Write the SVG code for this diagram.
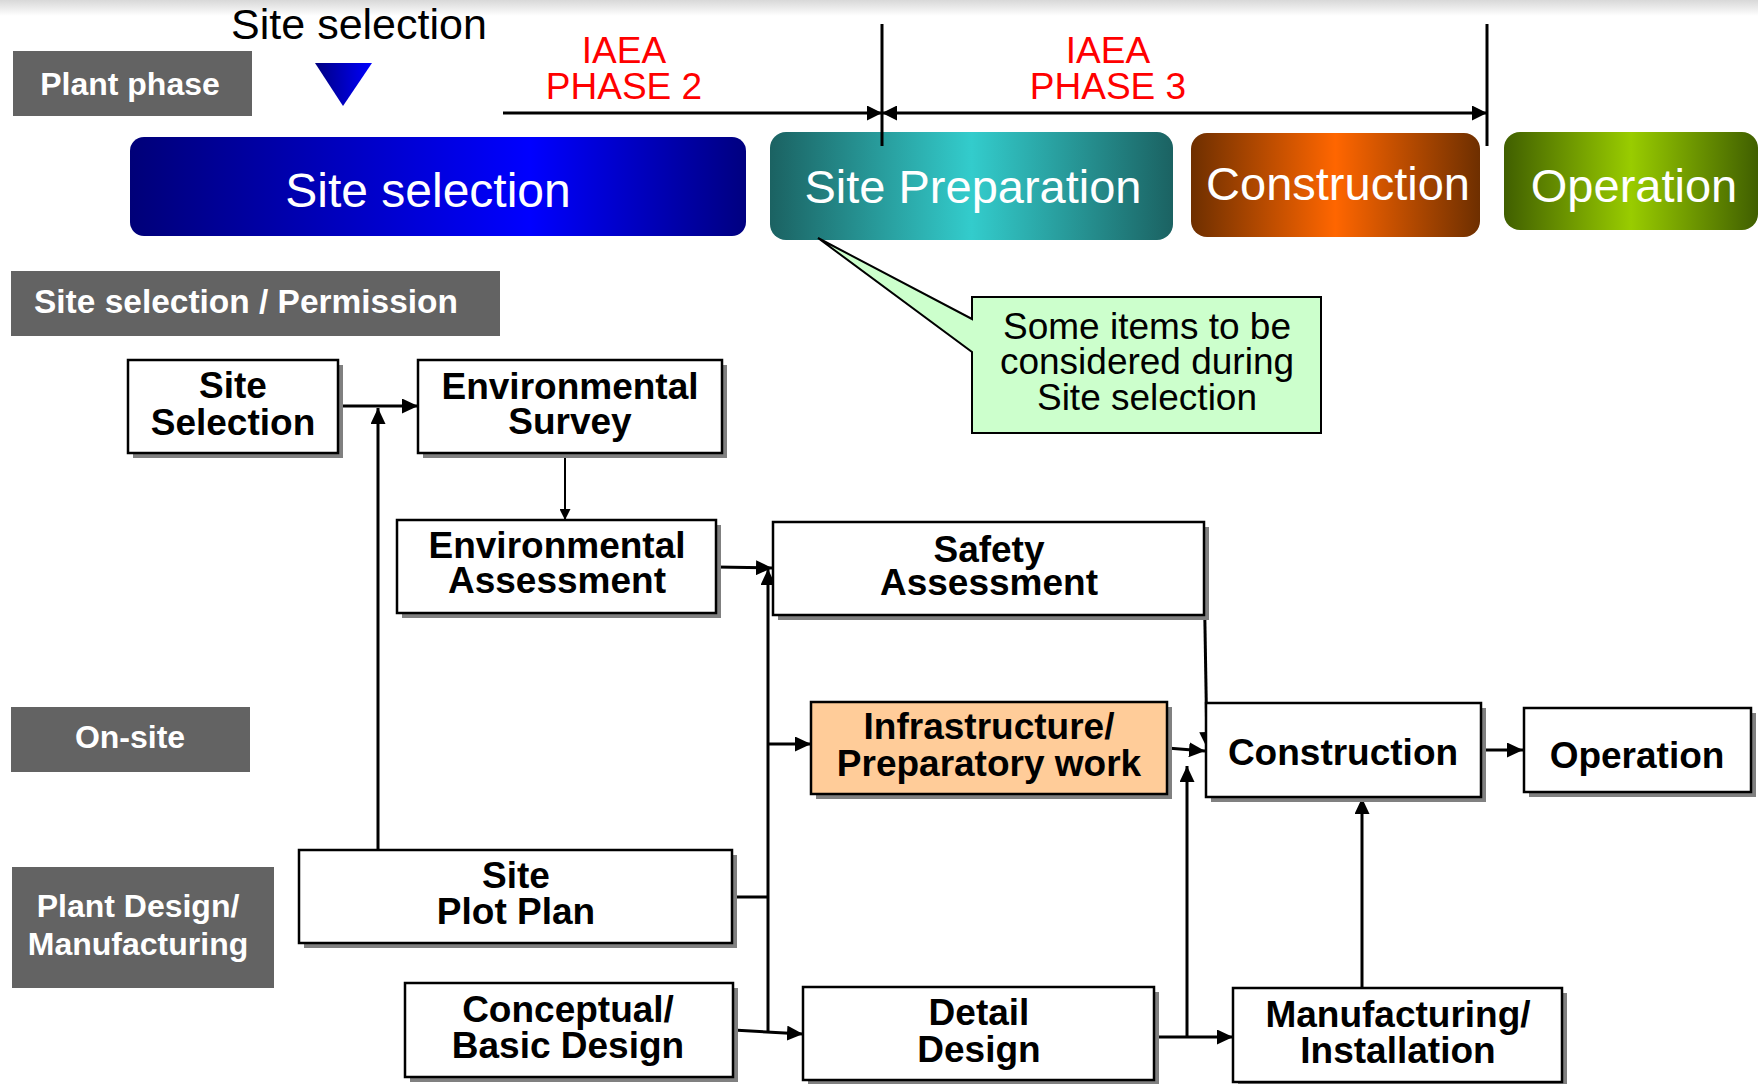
<svg xmlns="http://www.w3.org/2000/svg" width="1758" height="1084" viewBox="0 0 1758 1084">
<defs>
<style>
.lbl{fill:#636363}
.lt{font-family:"Liberation Sans",Arial,sans-serif;font-weight:bold;font-size:32px;fill:#fff}
.sh{fill:#808080}
.box{fill:#fff;stroke:#000;stroke-width:2.5}
.bt{font-family:"Liberation Sans",Arial,sans-serif;font-weight:bold;font-size:37px;fill:#000;text-anchor:middle}
.bar{font-family:"Liberation Sans",Arial,sans-serif;font-size:47px;fill:#fff;text-anchor:middle}
.red{font-family:"Liberation Sans",Arial,sans-serif;font-size:37px;fill:#f00;text-anchor:middle}
.reg{font-family:"Liberation Sans",Arial,sans-serif;font-size:37px;fill:#000;text-anchor:middle}
.c{fill:none;stroke:#000;stroke-width:3}
.thin{fill:none;stroke:#000;stroke-width:2}
</style>
<linearGradient id="topfade" x1="0" y1="0" x2="0" y2="1"><stop offset="0" stop-color="#d8d8d8"/><stop offset="1" stop-color="#fff"/></linearGradient>
<linearGradient id="gBlue" x1="0" y1="0" x2="1" y2="0"><stop offset="0" stop-color="#000078"/><stop offset="0.65" stop-color="#0000ff"/><stop offset="1" stop-color="#000080"/></linearGradient>
<linearGradient id="gTri" x1="0" y1="0" x2="1" y2="0"><stop offset="0" stop-color="#000080"/><stop offset="1" stop-color="#0000ff"/></linearGradient>
<linearGradient id="gTeal" x1="0" y1="0" x2="1" y2="0"><stop offset="0" stop-color="#1b6262"/><stop offset="0.5" stop-color="#33cccc"/><stop offset="1" stop-color="#1b6262"/></linearGradient>
<linearGradient id="gOrange" x1="0" y1="0" x2="1" y2="0"><stop offset="0" stop-color="#6e2f00"/><stop offset="0.5" stop-color="#ff6600"/><stop offset="1" stop-color="#6e2f00"/></linearGradient>
<linearGradient id="gGreen" x1="0" y1="0" x2="1" y2="0"><stop offset="0" stop-color="#405f00"/><stop offset="0.5" stop-color="#99cc00"/><stop offset="1" stop-color="#405f00"/></linearGradient>
<marker id="arr" viewBox="0 0 16 15" refX="16" refY="7.5" markerWidth="16" markerHeight="15" markerUnits="userSpaceOnUse" orient="auto-start-reverse"><path d="M0,0 L16,7.5 L0,15 Z" fill="#000"/></marker>
<marker id="arrS" viewBox="0 0 11 11" refX="11" refY="5.5" markerWidth="11" markerHeight="11" markerUnits="userSpaceOnUse" orient="auto-start-reverse"><path d="M0,0 L11,5.5 L0,11 Z" fill="#000"/></marker>
<marker id="arrP" viewBox="0 0 15 15" refX="15" refY="7.5" markerWidth="15" markerHeight="15" markerUnits="userSpaceOnUse" orient="auto-start-reverse"><path d="M0,0 L15,7.5 L0,15 Z" fill="#000"/></marker>
</defs>
<rect x="0" y="0" width="1758" height="1084" fill="#fff"/>
<rect x="0" y="0" width="1758" height="16" fill="url(#topfade)"/>

<!-- header / phases -->
<g id="label-plant-phase"><rect class="lbl" x="13" y="51" width="239" height="65"/><text class="lt" x="130" y="95" text-anchor="middle">Plant phase</text></g>
<g id="marker-site-selection">
<text class="reg" x="359" y="39" style="font-size:43px">Site selection</text>
<polygon points="315,63 372,63 343,106" fill="url(#gTri)"/>
</g>
<g id="iaea-phase2"><text class="red" x="624" y="63">IAEA</text><text class="red" x="624" y="99">PHASE 2</text></g>
<g id="iaea-phase3"><text class="red" x="1108" y="63">IAEA</text><text class="red" x="1108" y="99">PHASE 3</text></g>
<g id="phase-site-selection"><rect x="130" y="137" width="616" height="99" rx="14" fill="url(#gBlue)"/><text class="bar" x="428" y="207" style="font-size:48px">Site selection</text></g>
<g id="phase-site-preparation"><rect x="770" y="132" width="403" height="108" rx="16" fill="url(#gTeal)"/><text class="bar" x="973" y="203">Site Preparation</text></g>
<g id="phase-construction"><rect x="1191" y="133" width="289" height="104" rx="16" fill="url(#gOrange)"/><text class="bar" x="1338" y="200">Construction</text></g>
<g id="phase-operation"><rect x="1504" y="132" width="254" height="98" rx="16" fill="url(#gGreen)"/><text class="bar" x="1634" y="202">Operation</text></g>

<g id="callout"><path d="M972,297 H1321 V433 H972 V352 L818,238 L972,319 Z" fill="#ccffcc" stroke="#000" stroke-width="2"/>
<text class="reg" x="1147" y="339">Some items to be</text><text class="reg" x="1147" y="374">considered during</text><text class="reg" x="1147" y="410">Site selection</text></g>

<!-- row labels -->
<g id="label-permission"><rect class="lbl" x="11" y="271" width="489" height="65"/><text class="lt" x="34" y="313" style="font-size:33px" textLength="424" lengthAdjust="spacingAndGlyphs">Site selection / Permission</text></g>
<g id="label-onsite"><rect class="lbl" x="11" y="707" width="239" height="65"/><text class="lt" x="130" y="748" text-anchor="middle">On-site</text></g>
<g id="label-plant-design"><rect class="lbl" x="12" y="867" width="262" height="121"/><text class="lt" x="138" y="917" text-anchor="middle">Plant Design/</text><text class="lt" x="138" y="955" text-anchor="middle">Manufacturing</text></g>

<!-- connectors -->
<g id="connectors">
<path class="c" d="M503,113 H882" marker-end="url(#arrP)"/>
<path class="c" d="M882,113 H1487" stroke-width="2.5" marker-start="url(#arrP)" marker-end="url(#arrP)"/>
<path class="c" d="M882,24 V146" stroke-width="2.5"/>
<path class="c" d="M1487,24 V146" stroke-width="2.5"/>
<path class="c" d="M338,406 H418" marker-end="url(#arr)"/>
<path class="c" d="M378,849 V408" marker-end="url(#arr)"/>
<path class="thin" d="M565,448 V520" marker-end="url(#arrS)"/>
<path class="c" d="M716,567 L772,568" marker-end="url(#arr)"/>
<path class="c" d="M768,1033 V569" marker-end="url(#arr)"/>
<path class="c" d="M732,897 H768"/>
<path class="c" d="M768,744 H811" marker-end="url(#arr)"/>
<path class="c" d="M733,1030 L803,1034" marker-end="url(#arr)"/>
<path class="c" d="M1204,568 L1207,748" marker-end="url(#arr)"/>
<path class="c" d="M1167,748 L1205,751" marker-end="url(#arr)"/>
<path class="c" d="M1481,750 H1523" marker-end="url(#arr)"/>
<path class="c" d="M1154,1037 H1233" marker-end="url(#arr)"/>
<path class="c" d="M1187,1037 V766" marker-end="url(#arr)"/>
<path class="c" d="M1362,988 V798" marker-end="url(#arr)"/>
</g>

<!-- nodes -->
<g id="node-site-selection"><rect class="sh" x="133" y="365" width="210" height="93"/><rect class="box" x="128" y="360" width="210" height="93"/><text class="bt" x="233" y="398">Site</text><text class="bt" x="233" y="435">Selection</text></g>
<g id="node-env-survey"><rect class="sh" x="423" y="365" width="304" height="93"/><rect class="box" x="418" y="360" width="304" height="93"/><text class="bt" x="570" y="399">Environmental</text><text class="bt" x="570" y="434">Survey</text></g>
<g id="node-env-assessment"><rect class="sh" x="402" y="525" width="319" height="93"/><rect class="box" x="397" y="520" width="319" height="93"/><text class="bt" x="557" y="558">Environmental</text><text class="bt" x="557" y="593">Assessment</text></g>
<g id="node-safety"><rect class="sh" x="778" y="527" width="431" height="93"/><rect class="box" x="773" y="522" width="431" height="93"/><text class="bt" x="989" y="562">Safety</text><text class="bt" x="989" y="595">Assessment</text></g>
<g id="node-infrastructure"><rect class="sh" x="816" y="707" width="356" height="92"/><rect class="box" x="811" y="702" width="356" height="92" style="fill:#ffcc99"/><text class="bt" x="989" y="739">Infrastructure/</text><text class="bt" x="989" y="776">Preparatory work</text></g>
<g id="node-construction"><rect class="sh" x="1211" y="708" width="275" height="94"/><rect class="box" x="1206" y="703" width="275" height="94"/><text class="bt" x="1343" y="765">Construction</text></g>
<g id="node-operation"><rect class="sh" x="1529" y="713" width="227" height="84"/><rect class="box" x="1524" y="708" width="227" height="84"/><text class="bt" x="1637" y="768">Operation</text></g>
<g id="node-site-plot-plan"><rect class="sh" x="304" y="855" width="433" height="93"/><rect class="box" x="299" y="850" width="433" height="93"/><text class="bt" x="516" y="888">Site</text><text class="bt" x="516" y="924">Plot Plan</text></g>
<g id="node-conceptual"><rect class="sh" x="410" y="988" width="328" height="94"/><rect class="box" x="405" y="983" width="328" height="94"/><text class="bt" x="568" y="1022">Conceptual/</text><text class="bt" x="568" y="1058">Basic Design</text></g>
<g id="node-detail-design"><rect class="sh" x="808" y="992" width="351" height="93"/><rect class="box" x="803" y="987" width="351" height="93"/><text class="bt" x="979" y="1025">Detail</text><text class="bt" x="979" y="1062">Design</text></g>
<g id="node-manufacturing"><rect class="sh" x="1238" y="993" width="329" height="94"/><rect class="box" x="1233" y="988" width="329" height="94"/><text class="bt" x="1398" y="1027">Manufacturing/</text><text class="bt" x="1398" y="1063">Installation</text></g>
</svg>
